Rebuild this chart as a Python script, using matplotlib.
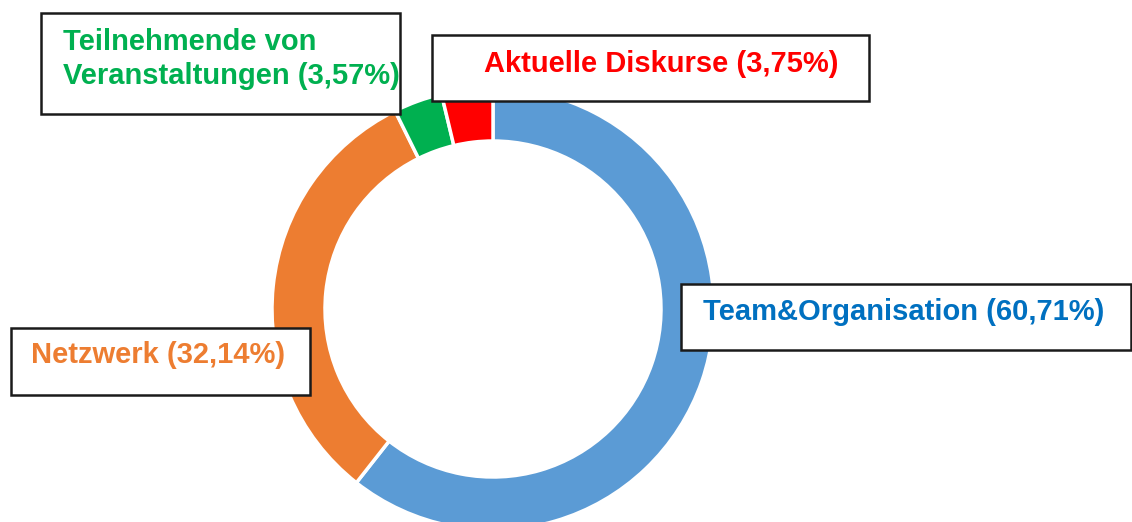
import matplotlib
matplotlib.use("Agg")
import matplotlib.pyplot as plt
from matplotlib.patches import Rectangle

plt.rcParams['font.family'] = ['Liberation Sans', 'DejaVu Sans']

# data
categories = ["Team&Organisation", "Netzwerk", "Teilnehmende von\nVeranstaltungen", "Aktuelle Diskurse"]
values = [60.71, 32.14, 3.57, 3.75]
value_labels = ["60,71%", "32,14%", "3,57%", "3,75%"]
colors = ["#5B9BD5", "#ED7D31", "#00B050", "#FF0000"]
text_colors = ["#0070C0", "#ED7D31", "#00B050", "#FF0000"]

W, H = 1132, 522
fig = plt.figure(figsize=(W / 100, H / 100), dpi=100)
ax = fig.add_axes([0, 0, 1, 1])

# donut, center in pixel coords (y measured from bottom)
cx, cy, r = 493, H - 309, 221
ax.pie(values, colors=colors, startangle=90, counterclock=False,
       center=(cx, cy), radius=r, frame=True,
       wedgeprops=dict(width=53, edgecolor='white', linewidth=2.5))
ax.set_xlim(0, W)
ax.set_ylim(0, H)
ax.set_aspect('equal')
ax.axis('off')

# label boxes: (left, top, right, bottom) in pixels from top-left, text anchor
boxes = [
    ((681, 284, 1131, 350), (703, 312)),
    ((11, 328, 310, 395), (31, 355)),
    ((41, 13, 400, 114), (63, 59)),
    ((432, 35, 869, 101), (484, 64)),
]

for i, ((x0, y0, x1, y1), (tx, ty)) in enumerate(boxes):
    rect = Rectangle((x0, H - y1), x1 - x0, y1 - y0, facecolor='white',
                     edgecolor='#1a1a1a', linewidth=1.8, zorder=5)
    ax.add_patch(rect)
    ax.text(tx, H - ty, f"{categories[i]} ({value_labels[i]})",
            color=text_colors[i], fontsize=21, fontweight='bold',
            ha='left', va='center', linespacing=1.25, zorder=6)

fig.savefig("out.png", dpi=100, facecolor='white')
